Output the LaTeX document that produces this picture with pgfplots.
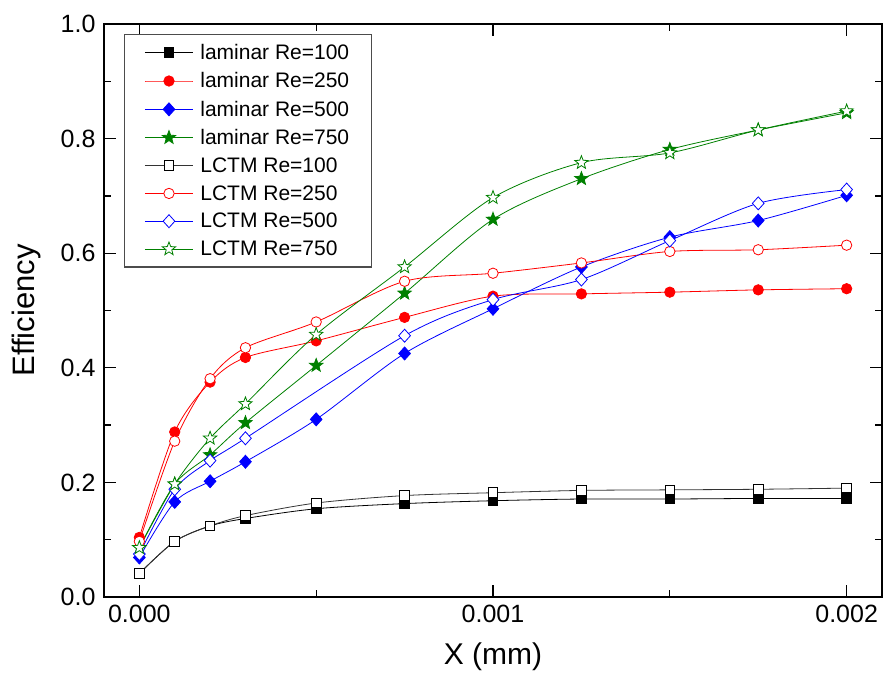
\documentclass[border=0pt]{standalone}
\usepackage{fontspec}
\setmainfont{Liberation Sans}
\usepackage{pgfplots}
\pgfplotsset{compat=1.18}
\definecolor{cred}{RGB}{255,0,0}
\definecolor{cblue}{RGB}{0,0,255}
\definecolor{cgreen}{RGB}{0,128,0}
\pgfdeclareplotmark{starshape}{%
 \pgfpathmoveto{\pgfpointpolar{90}{\pgfplotmarksize}}%
 \pgfpathlineto{\pgfpointpolar{126}{0.42\pgfplotmarksize}}%
 \pgfpathlineto{\pgfpointpolar{162}{\pgfplotmarksize}}%
 \pgfpathlineto{\pgfpointpolar{198}{0.42\pgfplotmarksize}}%
 \pgfpathlineto{\pgfpointpolar{234}{\pgfplotmarksize}}%
 \pgfpathlineto{\pgfpointpolar{270}{0.42\pgfplotmarksize}}%
 \pgfpathlineto{\pgfpointpolar{306}{\pgfplotmarksize}}%
 \pgfpathlineto{\pgfpointpolar{342}{0.42\pgfplotmarksize}}%
 \pgfpathlineto{\pgfpointpolar{18}{\pgfplotmarksize}}%
 \pgfpathlineto{\pgfpointpolar{54}{0.42\pgfplotmarksize}}%
 \pgfpathclose
 \pgfusepathqfillstroke}
\pgfdeclareplotmark{sqdiamond}{%
 \pgfpathmoveto{\pgfqpoint{0pt}{\pgfplotmarksize}}%
 \pgfpathlineto{\pgfqpoint{0.9\pgfplotmarksize}{0pt}}%
 \pgfpathlineto{\pgfqpoint{0pt}{-\pgfplotmarksize}}%
 \pgfpathlineto{\pgfqpoint{-0.9\pgfplotmarksize}{0pt}}%
 \pgfpathclose
 \pgfusepathqfillstroke}
\begin{document}
\begin{tikzpicture}
\begin{axis}[
  scale only axis,
  width=778pt, height=573pt,
  xmin=-0.0001, xmax=0.0021,
  ymin=0, ymax=1.0,
  xtick={0,0.001,0.002},
  ytick={0,0.2,0.4,0.6,0.8,1.0},
  minor x tick num=1,
  minor y tick num=1,
  scaled x ticks=false,
  scaled y ticks=false,
  tick align=inside,
  major tick length=12pt,
  minor tick length=7pt,
  axis line style={line width=1.6pt},
  every tick/.style={black, line width=1.3pt},
  /pgf/number format/assume math mode=true,
  xticklabel style={font=\fontsize{25}{30}\selectfont, yshift=-5pt,
    /pgf/number format/.cd, fixed, fixed zerofill, precision=3},
  yticklabel style={font=\fontsize{25}{30}\selectfont, xshift=-5pt,
    /pgf/number format/.cd, fixed, fixed zerofill, precision=1},
  xlabel={X (mm)},
  ylabel={Efficiency},
  xlabel style={font=\fontsize{30}{36}\selectfont, at={(axis description cs:0.5,-0.105)}, anchor=center},
  ylabel style={font=\fontsize{31}{37}\selectfont, at={(axis description cs:-0.100,0.5)}, anchor=center},
  legend cell align=left,
  legend style={at={(rel axis cs:0.0257,0.983)}, anchor=north west,
    draw=black!70, line width=1.2pt, font=\fontsize{21}{26}\selectfont,
    inner xsep=20pt, inner ysep=8pt, row sep=7.6pt,
    /tikz/every odd column/.append style={column sep=5pt}},
  legend image code/.code={\draw[mark repeat=2,mark phase=2,#1] plot coordinates {(0pt,0pt) (24pt,0pt) (48pt,0pt)};},
  every axis plot/.append style={line width=0.8pt, smooth, tension=0.5},
]
% laminar
\addplot[black, mark=square*, mark size=4.8pt, mark options={fill=black, line width=0.8pt}] coordinates {
 (0,0.041) (0.0001,0.097) (0.0002,0.124) (0.0003,0.137) (0.0005,0.154) (0.00075,0.163) (0.001,0.168) (0.00125,0.171) (0.0015,0.171) (0.00175,0.172) (0.002,0.172)};
\addlegendentry{laminar Re=100}
\addplot[cred, mark=*, mark size=5.2pt, mark options={fill=cred, line width=0.8pt}] coordinates {
 (0,0.104) (0.0001,0.288) (0.0002,0.375) (0.0003,0.418) (0.0005,0.447) (0.00075,0.488) (0.001,0.525) (0.00125,0.529) (0.0015,0.532) (0.00175,0.536) (0.002,0.538)};
\addlegendentry{laminar Re=250}
\addplot[cblue, mark=sqdiamond, mark size=6.5pt, mark options={fill=cblue, line width=0.8pt}] coordinates {
 (0,0.069) (0.0001,0.166) (0.0002,0.202) (0.0003,0.236) (0.0005,0.310) (0.00075,0.425) (0.001,0.503) (0.00125,0.576) (0.0015,0.628) (0.00175,0.657) (0.002,0.701)};
\addlegendentry{laminar Re=500}
\addplot[cgreen, mark=starshape, mark size=7pt, mark options={fill=cgreen, line width=0.8pt}] coordinates {
 (0,0.086) (0.0001,0.197) (0.0002,0.248) (0.0003,0.304) (0.0005,0.404) (0.00075,0.530) (0.001,0.659) (0.00125,0.730) (0.0015,0.781) (0.00175,0.815) (0.002,0.845)};
\addlegendentry{laminar Re=750}
% LCTM
\addplot[black!80, mark=square*, mark size=4.8pt, mark options={fill=white, draw=black, line width=0.9pt}] coordinates {
 (0,0.041) (0.0001,0.097) (0.0002,0.124) (0.0003,0.142) (0.0005,0.164) (0.00075,0.177) (0.001,0.182) (0.00125,0.186) (0.0015,0.187) (0.00175,0.188) (0.002,0.190)};
\addlegendentry{LCTM Re=100}
\addplot[cred, mark=*, mark size=5.2pt, mark options={fill=white, line width=0.8pt}] coordinates {
 (0,0.097) (0.0001,0.272) (0.0002,0.381) (0.0003,0.435) (0.0005,0.480) (0.00075,0.551) (0.001,0.565) (0.00125,0.583) (0.0015,0.603) (0.00175,0.606) (0.002,0.614)};
\addlegendentry{LCTM Re=250}
\addplot[cblue, mark=sqdiamond, mark size=6.5pt, mark options={fill=white, line width=0.8pt}] coordinates {
 (0,0.075) (0.0001,0.188) (0.0002,0.238) (0.0003,0.277) (0.00075,0.456) (0.001,0.519) (0.00125,0.554) (0.0015,0.622) (0.00175,0.687) (0.002,0.711)};
\addlegendentry{LCTM Re=500}
\addplot[cgreen, mark=starshape, mark size=7pt, mark options={fill=white, line width=0.8pt}] coordinates {
 (0,0.086) (0.0001,0.197) (0.0002,0.277) (0.0003,0.337) (0.0005,0.458) (0.00075,0.576) (0.001,0.697) (0.00125,0.758) (0.0015,0.775) (0.00175,0.815) (0.002,0.848)};
\addlegendentry{LCTM Re=750}
\end{axis}
\pgfresetboundingbox
\path ([shift={(-104pt,-90pt)}]current axis.south west) rectangle ([shift={(2pt,24pt)}]current axis.north east);
\end{tikzpicture}
\end{document}
